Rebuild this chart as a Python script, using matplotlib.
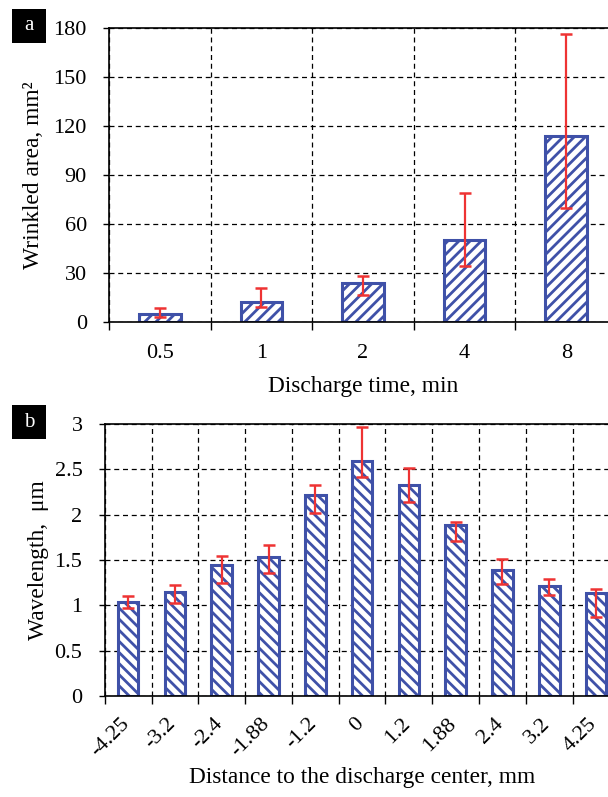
import matplotlib
matplotlib.use('Agg')
import matplotlib.pyplot as plt
import numpy as np
from matplotlib.patches import Rectangle
import matplotlib.transforms as mtransforms

plt.rcParams['font.family'] = ['Liberation Serif', 'DejaVu Serif']
plt.rcParams['hatch.linewidth'] = 2.0

# ---- data ----
time_labels = ['0.5', '1', '2', '4', '8']
area_mean = [4.9, 12.4, 23.8, 50.4, 113.8]
area_low = [3.3, 9.2, 16.7, 34.4, 69.6]
area_high = [8.7, 20.9, 28.3, 78.9, 176.3]
area_ticks = [0, 30, 60, 90, 120, 150, 180]

dist_labels = ['-4.25', '-3.2', '-2.4', '-1.88', '-1.2', '0', '1.2', '1.88', '2.4', '3.2', '4.25']
wave_mean = [1.04, 1.145, 1.44, 1.535, 2.22, 2.59, 2.33, 1.89, 1.395, 1.215, 1.135]
wave_low = [0.97, 1.03, 1.25, 1.36, 2.02, 2.42, 2.135, 1.71, 1.24, 1.115, 0.87]
wave_high = [1.10, 1.226, 1.54, 1.66, 2.33, 2.97, 2.51, 1.915, 1.51, 1.29, 1.18]
wave_ticks = [0, 0.5, 1, 1.5, 2, 2.5, 3]

BLUE = '#3F51A8'
RED = '#EE3333'
W, H = 608, 797
TICK_FS = 16
LABEL_FS = 16.8

fig = plt.figure(figsize=(W / 100, H / 100), dpi=100)

axA = fig.add_axes([109 / W, 1 - 322 / H, (617 - 109) / W, (322 - 28) / H])
axB = fig.add_axes([104.7 / W, 1 - 696 / H, (619.5 - 104.7) / W, (696 - 424) / H])


def style(ax, n, ticks, width, hatch, mean, low, high, labels):
    x = np.arange(n)
    mean = np.asarray(mean)
    yerr = [mean - np.asarray(low), np.asarray(high) - mean]
    ax.bar(x, mean, width=width, facecolor='white', edgecolor=BLUE,
           linewidth=2.2, hatch=hatch, zorder=2)
    ax.errorbar(x, mean, yerr=yerr, fmt='none', ecolor=RED, elinewidth=1.6,
                capsize=4.3, capthick=1.8, zorder=3)
    ax.set_xlim(-0.5, n - 0.5)
    ax.set_ylim(ticks[0], ticks[-1])
    ax.set_yticks(ticks)
    ax.set_yticklabels(['{:g}'.format(t) for t in ticks])
    ax.set_xticks(x)
    ax.set_xticklabels(labels)
    ax.set_xticks(np.arange(n + 1) - 0.5, minor=True)
    ax.tick_params(axis='x', which='major', length=0, labelsize=TICK_FS)
    ax.tick_params(axis='x', which='minor', length=5.5, width=1.0, direction='out')
    ax.tick_params(axis='y', which='major', length=4, width=1.0, direction='out',
                   labelsize=TICK_FS, pad=12)
    ax.set_axisbelow(True)
    ax.grid(True, axis='y', which='major', color='black', linestyle=(0, (4, 3)), linewidth=0.9)
    ax.grid(True, axis='x', which='minor', color='black', linestyle=(0, (4, 3)), linewidth=0.9)
    for s in ['left', 'bottom', 'top', 'right']:
        ax.spines[s].set_linewidth(1.2)
        ax.spines[s].set_color('black')


style(axA, 5, area_ticks, 0.41, '///', area_mean, area_low, area_high, time_labels)
axA.tick_params(axis='x', which='major', pad=16)
axA.set_xlabel('Discharge time, min', fontsize=LABEL_FS)
axA.xaxis.set_label_coords(0.5, -0.185)
axA.set_ylabel('Wrinkled area, mm²', fontsize=LABEL_FS)
axA.yaxis.set_label_coords(-0.128, 0.5)

style(axB, 11, wave_ticks, 0.44, '\\\\\\', wave_mean, wave_low, wave_high, dist_labels)
axB.tick_params(axis='x', which='major', pad=13)
offset = mtransforms.ScaledTranslation(5 / 100, 0, fig.dpi_scale_trans)
for lab in axB.get_xticklabels():
    lab.set_rotation(45)
    lab.set_ha('right')
    lab.set_va('top')
    lab.set_transform(lab.get_transform() + offset)
axB.set_xlabel('Distance to the discharge center, mm', fontsize=LABEL_FS)
axB.xaxis.set_label_coords(0.5, -0.262)
axB.set_ylabel('Wavelength,  μm', fontsize=LABEL_FS)
axB.yaxis.set_label_coords(-0.108, 0.5)

# panel labels
for (x0, y0, txt) in [(12, 9, 'a'), (12, 405, 'b')]:
    fig.patches.append(Rectangle((x0 / W, 1 - (y0 + 34) / H), 34 / W, 34 / H,
                                 transform=fig.transFigure, facecolor='black',
                                 edgecolor='none'))
    fig.text((x0 + 17) / W, 1 - (y0 + 17) / H, txt, color='white', fontsize=15,
             ha='center', va='center')

fig.savefig('out.png', dpi=100)
